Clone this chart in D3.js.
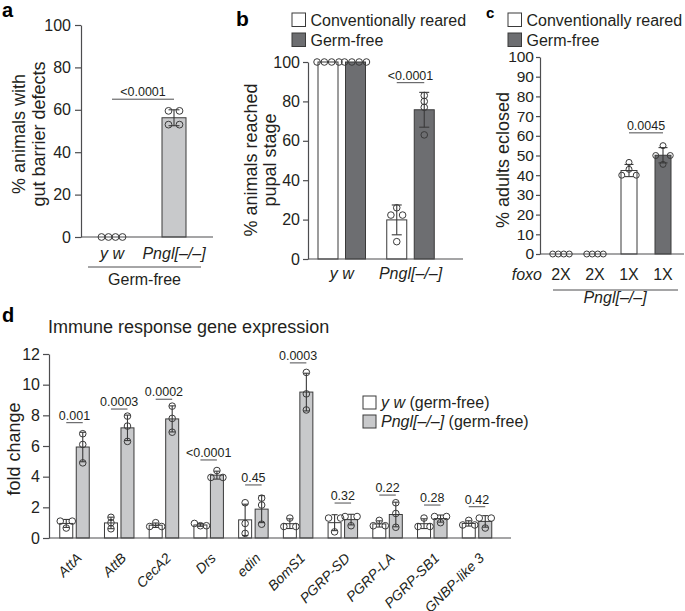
<!DOCTYPE html>
<html><head><meta charset="utf-8">
<script src="https://cdn.jsdelivr.net/npm/d3@7"></script>
<style>
body{margin:0;background:#fff;}
svg{display:block;font-family:"Liberation Sans",Arial,Helvetica,sans-serif;}
</style></head><body>
<svg id="fig" width="685" height="611"></svg>
<script>
// ---------------- DATA ----------------
// Panel a
const aCategories = ["y w", "Pngl[–/–]"];
const aValues = [[0, 0, 0, 0], [59.5, 59.5, 53, 53]];
const aTicks = [0, 20, 40, 60, 80, 100];
const aPValue = "<0.0001";
const aPHeight = 65;

// Panel b
const bGenotypes = ["y w", "Pngl[–/–]"];
const bConditions = ["Conventionally reared", "Germ-free"];
const bConv = [[100, 100, 100, 100], [26, 22.3, 22.3, 8.8]];
const bGermFree = [[100, 100, 100, 100], [83, 80, 77, 63]];
const bTicks = [0, 20, 40, 60, 80, 100];
const bPValue = "<0.0001";
const bPHeight = 89.5;

// Panel c
const cFoxo = ["2X", "2X", "1X", "1X"];
const cCondition = ["Conventionally reared", "Germ-free", "Conventionally reared", "Germ-free"];
const cValues = [[0, 0, 0, 0], [0, 0, 0, 0], [46.5, 43, 40, 40], [55, 50, 50, 45.5]];
const cTicks = [0, 10, 20, 30, 40, 50, 60, 70, 80, 90, 100];
const cPValue = "0.0045";
const cPHeight = 61.5;

// Panel d
const dGenes = ["AttA", "AttB", "CecA2", "Drs", "edin", "BomS1", "PGRP-SD", "PGRP-LA", "PGRP-SB1", "GNBP-like 3"];
const dYw = [[1.1, 1.1, 0.65], [1.35, 1.0, 0.6], [1.0, 0.75, 0.75], [0.95, 0.8, 0.8], [2.3, 0.95, 0.3],
             [1.3, 0.75, 0.75], [1.3, 1.3, 0.4], [1.15, 0.8, 0.8], [1.3, 0.75, 0.75], [1.15, 0.85, 0.85]];
const dPngl = [[6.8, 6.1, 4.9], [7.95, 7.3, 6.3], [8.6, 7.8, 6.9], [4.4, 3.95, 3.95], [2.6, 2.15, 0.9],
               [10.8, 9.4, 8.35], [1.4, 1.4, 0.8], [2.3, 1.6, 0.7], [1.4, 1.4, 1.0], [1.3, 1.3, 0.65]];
const dPValues = ["0.001", "0.0003", "0.0002", "<0.0001", "0.45", "0.0003", "0.32", "0.22", "0.28", "0.42"];
const dPHeights = [7.52, 8.41, 9.05, 5.09, 3.46, 11.42, 2.28, 2.8, 2.15, 2.04];
const dTicks = [0, 2, 4, 6, 8, 10, 12];
const dSeries = ["y w", "Pngl[–/–]"];

// ---------------- STYLE ----------------
const INK = "#231f20", AXIS = "#4d4d4f", EDGE = "#3a3a3a";
const WHITE = "#ffffff", DARK = "#6d6e71", LIGHT = "#c8c9cb";
const svg = d3.select("#fig");

function stats(v) { return { m: d3.mean(v), s: v.length > 1 ? (d3.deviation(v) || 0) : 0 }; }

function swarmOffsets(vals, y, spacing) {
  const idx = vals.map((v, i) => i).sort((a, b) => vals[b] - vals[a]);
  const off = new Array(vals.length).fill(0);
  let i = 0;
  while (i < idx.length) {
    let j = i + 1;
    while (j < idx.length && Math.abs(y(vals[idx[j]]) - y(vals[idx[i]])) < 3) j++;
    const k = j - i;
    const sp = spacing[k] || spacing[4];
    for (let t = 0; t < k; t++) off[idx[i + t]] = (t - (k - 1) / 2) * sp;
    i = j;
  }
  return off;
}

function drawBar(g, cx, vals, y, o) {
  const st = stats(vals);
  const y0 = y(0);
  if (st.m > 0) {
    g.append("rect").attr("x", cx - o.w / 2).attr("width", o.w)
      .attr("y", y(st.m)).attr("height", y0 - y(st.m))
      .attr("fill", o.fill).attr("stroke", EDGE).attr("stroke-width", 1);
  }
  return st;
}
function drawErr(g, cx, vals, y, o) {
  const st = stats(vals);
  if (st.s > 0) {
    const cw = o.cap;
    const top = y(st.m + st.s), bot = y(st.m - st.s);
    g.append("line").attr("x1", cx).attr("x2", cx).attr("y1", top).attr("y2", bot)
      .attr("stroke", EDGE).attr("stroke-width", 1.1);
    [top, bot].forEach(yy => g.append("line").attr("x1", cx - cw / 2).attr("x2", cx + cw / 2)
      .attr("y1", yy).attr("y2", yy).attr("stroke", EDGE).attr("stroke-width", 1.1));
  }
  const off = swarmOffsets(vals, y, o.spacing);
  vals.forEach((v, i) => {
    g.append("circle").attr("cx", cx + off[i]).attr("cy", y(v)).attr("r", o.r)
      .attr("fill", "none").attr("stroke", EDGE).attr("stroke-width", 1);
  });
}
function styleAxis(g, fs) {
  g.select(".domain").attr("stroke", AXIS).attr("stroke-width", 1.2);
  g.selectAll(".tick line").attr("stroke", AXIS).attr("stroke-width", 1.2);
  g.selectAll(".tick text").attr("fill", INK).style("font-size", fs + "px");
}
function sig(g, x1, x2, yy, label, fs) {
  g.append("line").attr("x1", x1).attr("x2", x2).attr("y1", yy).attr("y2", yy)
    .attr("stroke", AXIS).attr("stroke-width", 1);
  g.append("text").attr("x", (x1 + x2) / 2).attr("y", yy - 3).attr("text-anchor", "middle")
    .attr("fill", INK).style("font-size", fs + "px").text(label);
}
function ylabel(x, y, lines, fs, gap) {
  const t = svg.append("text").attr("transform", `translate(${x},${y}) rotate(-90)`)
    .attr("text-anchor", "middle").attr("fill", INK).style("font-size", fs + "px");
  lines.forEach((l, i) => t.append("tspan").attr("x", 0).attr("dy", i === 0 ? 0 : gap).text(l));
}
function letter(x, y, s, fs) {
  svg.append("text").attr("x", x).attr("y", y).attr("font-weight", "bold")
    .style("font-size", fs + "px").attr("fill", "#000").text(s);
}
function legend(x, y, items, fs, box, gap) {
  items.forEach((it, i) => {
    svg.append("rect").attr("x", x).attr("y", y + i * gap).attr("width", box).attr("height", box)
      .attr("fill", it.fill).attr("stroke", EDGE).attr("stroke-width", 1);
    const t = svg.append("text").attr("x", x + box + 5).attr("y", y + i * gap + box - 1)
      .attr("fill", INK).style("font-size", fs + "px");
    it.parts.forEach(p => t.append("tspan").attr("font-style", p.i ? "italic" : "normal").text(p.t));
  });
}

// ---------------- PANEL A ----------------
{
  const y = d3.scaleLinear().domain([0, 100]).range([237, 25]);
  const x = d3.scalePoint().domain(aCategories).range([112, 174]);
  const g = svg.append("g");
  const opt = { w: 24, cap: 11, r: 3.4, spacing: { 2: 11, 4: 7 } };
  aCategories.forEach((c, i) => drawBar(g, x(c), aValues[i], y, { ...opt, fill: i === 0 ? WHITE : LIGHT }));
  g.append("line").attr("x1", 81).attr("x2", 213).attr("y1", y(0)).attr("y2", y(0)).attr("stroke", AXIS).attr("stroke-width", 1.2);
  const ax = g.append("g").attr("transform", "translate(81,0)")
    .call(d3.axisLeft(y).tickValues(aTicks).tickSize(6).tickPadding(4).tickSizeOuter(0));
  styleAxis(ax, 16);
  aCategories.forEach((c, i) => drawErr(g, x(c), aValues[i], y, opt));
  sig(g, x(aCategories[0]), x(aCategories[1]), y(aPHeight), aPValue, 12.5);
  aCategories.forEach(c => g.append("text").attr("x", x(c)).attr("y", 259).attr("text-anchor", "middle")
    .attr("font-style", "italic").attr("fill", INK).style("font-size", "16px").text(c));
  g.append("line").attr("x1", 88).attr("x2", 201).attr("y1", 267).attr("y2", 267).attr("stroke", AXIS).attr("stroke-width", 1);
  g.append("text").attr("x", 144.5).attr("y", 285).attr("text-anchor", "middle").attr("fill", INK)
    .style("font-size", "16px").text("Germ-free");
  ylabel(25, 134, ["% animals with", "gut barrier defects"], 18, 20);
  letter(2, 17, "a", 20);
}

// ---------------- PANEL B ----------------
{
  const y = d3.scaleLinear().domain([0, 100]).range([259, 62]);
  const x = d3.scalePoint().domain(bGenotypes).range([341.75, 410.5]);
  const sub = d3.scalePoint().domain(bConditions).range([-13.75, 13.75]);
  const g = svg.append("g");
  const opt = { w: 20, cap: 10, r: 3.3, spacing: { 2: 11.7, 4: 7.3 } };
  const series = [bConv, bGermFree], fills = [WHITE, DARK];
  bGenotypes.forEach((gt, i) => bConditions.forEach((c, j) =>
    drawBar(g, x(gt) + sub(c), series[j][i], y, { ...opt, fill: fills[j] })));
  g.append("line").attr("x1", 308).attr("x2", 463).attr("y1", y(0)).attr("y2", y(0)).attr("stroke", AXIS).attr("stroke-width", 1.2);
  const ax = g.append("g").attr("transform", "translate(308,0)")
    .call(d3.axisLeft(y).tickValues(bTicks).tickSize(5).tickPadding(3).tickSizeOuter(0));
  styleAxis(ax, 16);
  bGenotypes.forEach((gt, i) => bConditions.forEach((c, j) =>
    drawErr(g, x(gt) + sub(c), series[j][i], y, opt)));
  sig(g, x(bGenotypes[1]) + sub(bConditions[0]), x(bGenotypes[1]) + sub(bConditions[1]), y(bPHeight), bPValue, 12.5);
  bGenotypes.forEach(c => g.append("text").attr("x", x(c)).attr("y", 279).attr("text-anchor", "middle")
    .attr("font-style", "italic").attr("fill", INK).style("font-size", "16px").text(c));
  ylabel(257, 160, ["% animals reached", "pupal stage"], 18, 19);
  letter(236, 26, "b", 21);
  legend(292, 13, [{ fill: WHITE, parts: [{ t: bConditions[0] }] }, { fill: DARK, parts: [{ t: bConditions[1] }] }], 16, 13.5, 20);
}

// ---------------- PANEL C ----------------
{
  const y = d3.scaleLinear().domain([0, 100]).range([254, 57]);
  const x = d3.scalePoint().domain(d3.range(cFoxo.length)).range([561, 663]);
  const g = svg.append("g");
  const opt = { w: 16, cap: 9, r: 3, spacing: { 2: 14.5, 4: 5.5 } };
  cFoxo.forEach((f, i) => drawBar(g, x(i), cValues[i], y, { ...opt, fill: cCondition[i] === "Germ-free" ? DARK : WHITE }));
  g.append("line").attr("x1", 540).attr("x2", 684).attr("y1", y(0)).attr("y2", y(0)).attr("stroke", AXIS).attr("stroke-width", 1.2);
  const ax = g.append("g").attr("transform", "translate(540,0)")
    .call(d3.axisLeft(y).tickValues(cTicks).tickSize(4).tickPadding(2).tickSizeOuter(0));
  styleAxis(ax, 15.5);
  cFoxo.forEach((f, i) => drawErr(g, x(i), cValues[i], y, opt));
  sig(g, x(2), x(3), y(cPHeight), cPValue, 12.5);
  cFoxo.forEach((f, i) => g.append("text").attr("x", x(i)).attr("y", 280).attr("text-anchor", "middle")
    .attr("fill", INK).style("font-size", "16px").text(f));
  g.append("text").attr("x", 542).attr("y", 280).attr("text-anchor", "end").attr("font-style", "italic")
    .attr("fill", INK).style("font-size", "16px").text("foxo");
  g.append("line").attr("x1", 553).attr("x2", 678).attr("y1", 290).attr("y2", 290).attr("stroke", AXIS).attr("stroke-width", 1);
  g.append("text").attr("x", 615).attr("y", 303).attr("text-anchor", "middle").attr("font-style", "italic")
    .attr("fill", INK).style("font-size", "16px").text("Pngl[–/–]");
  ylabel(509, 160, ["% adults eclosed"], 18, 0);
  letter(486, 18, "c", 15);
  legend(508, 13, [{ fill: WHITE, parts: [{ t: "Conventionally reared" }] }, { fill: DARK, parts: [{ t: "Germ-free" }] }], 16, 13.5, 20);
}

// ---------------- PANEL D ----------------
{
  const y = d3.scaleLinear().domain([0, 12]).range([538, 354]);
  const x = d3.scalePoint().domain(dGenes).range([74.5, 477]);
  const sub = d3.scalePoint().domain(dSeries).range([-8.25, 8.25]);
  const g = svg.append("g");
  const opt = { w: 13, cap: 6, r: 3.3, spacing: { 2: 12, 3: 6, 4: 5 } };
  const series = [dYw, dPngl], fills = [WHITE, LIGHT];
  dGenes.forEach((gn, i) => dSeries.forEach((s, j) =>
    drawBar(g, x(gn) + sub(s), series[j][i], y, { ...opt, fill: fills[j] })));
  g.append("line").attr("x1", 49).attr("x2", 511).attr("y1", y(0)).attr("y2", y(0)).attr("stroke", AXIS).attr("stroke-width", 1.2);
  const ax = g.append("g").attr("transform", "translate(49,0)")
    .call(d3.axisLeft(y).tickValues(dTicks).tickSize(6).tickPadding(3).tickSizeOuter(0));
  styleAxis(ax, 16);
  dGenes.forEach((gn, i) => dSeries.forEach((s, j) =>
    drawErr(g, x(gn) + sub(s), series[j][i], y, opt)));
  dGenes.forEach((gn, i) => sig(g, x(gn) + sub(dSeries[0]), x(gn) + sub(dSeries[1]), y(dPHeights[i]), dPValues[i], 12.5));
  dGenes.forEach(gn => g.append("text").attr("transform", `translate(${x(gn) + 8},559) rotate(-45)`)
    .attr("text-anchor", "end").attr("font-style", "italic").attr("fill", INK).style("font-size", "14px").text(gn));
  g.append("text").attr("x", 48).attr("y", 333).attr("fill", INK).style("font-size", "18px").text("Immune response gene expression");
  ylabel(20, 449, ["fold change"], 18, 0);
  letter(2, 322, "d", 20);
  legend(363, 396, [
    { fill: WHITE, parts: [{ t: "y w", i: true }, { t: " (germ-free)" }] },
    { fill: LIGHT, parts: [{ t: "Pngl[–/–]", i: true }, { t: " (germ-free)" }] }], 16, 13, 19);
}
</script></body></html>
